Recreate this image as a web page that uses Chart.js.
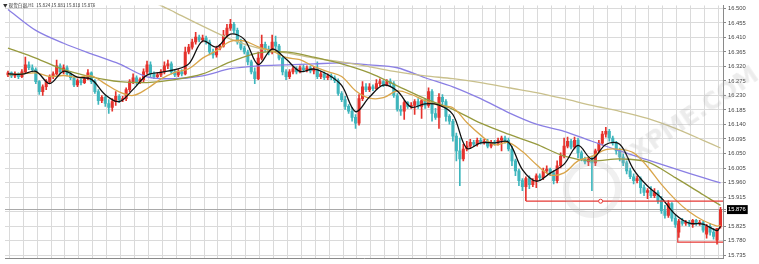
<!DOCTYPE html>
<html><head><meta charset="utf-8">
<script src="https://cdn.jsdelivr.net/npm/chart.js@4.4.0/dist/chart.umd.min.js"></script>
<style>
html,body{margin:0;padding:0;background:#fff;}
#wrap{position:relative;width:759px;height:264px;overflow:hidden;background:#fff;}
canvas{display:block;}
#hdr{position:absolute;left:3px;top:2px;font:4.6px "Noto Sans CJK SC","DejaVu Sans",sans-serif;color:#333;white-space:nowrap;}
#wm{position:absolute;left:612px;top:152px;font:bold 24px "DejaVu Sans",sans-serif;color:rgba(175,175,175,0.24);transform:rotate(-34deg);transform-origin:left top;white-space:nowrap;pointer-events:none;}
#ring{position:absolute;left:563px;top:160px;width:46px;height:46px;border:6px solid rgba(185,185,185,0.22);border-radius:50%;pointer-events:none;}
</style></head><body>
<div id="wrap">
<canvas id="c" width="759" height="264"></canvas>
<div id="hdr">▼ 现货白银,H1&nbsp; 15.824 15.883 15.818 15.876</div>
<div id="ring"></div>
<div id="wm">FXPME.COM</div>
</div>
<script>
const openP=[16.294,16.300,16.291,16.297,16.288,16.303,16.325,16.316,16.310,16.273,
16.242,16.257,16.273,16.288,16.297,16.322,16.303,16.316,16.297,16.285,
16.263,16.276,16.270,16.282,16.300,16.273,16.242,16.214,16.224,16.205,
16.193,16.211,16.227,16.217,16.220,16.248,16.273,16.285,16.273,16.279,
16.303,16.325,16.297,16.288,16.294,16.303,16.322,16.328,16.303,16.294,
16.303,16.297,16.365,16.380,16.396,16.411,16.402,16.408,16.396,16.365,
16.356,16.377,16.383,16.417,16.439,16.451,16.432,16.396,16.377,16.365,
16.334,16.303,16.282,16.346,16.389,16.374,16.365,16.396,16.383,16.346,
16.303,16.288,16.303,16.313,16.303,16.316,16.310,16.316,16.306,16.313,
16.288,16.297,16.285,16.291,16.285,16.276,16.236,16.217,16.196,16.181,
16.162,16.144,16.220,16.257,16.248,16.257,16.251,16.267,16.273,16.263,
16.273,16.267,16.230,16.187,16.181,16.208,16.196,16.199,16.211,16.196,
16.214,16.199,16.242,16.174,16.162,16.224,16.211,16.165,16.150,16.104,
16.058,16.033,16.064,16.073,16.085,16.079,16.091,16.085,16.088,16.073,
16.085,16.082,16.091,16.098,16.091,16.064,16.027,15.996,15.966,15.947,
15.972,15.953,15.966,15.981,15.975,15.996,16.002,15.990,15.966,16.012,
16.042,16.073,16.088,16.070,16.091,16.052,16.033,16.024,16.033,16.021,
16.058,16.082,16.110,16.119,16.098,16.082,16.058,16.039,16.021,15.996,
15.978,15.966,15.972,15.944,15.929,15.935,15.919,15.929,15.904,15.873,
15.858,15.895,15.849,15.806,15.840,15.833,15.836,15.830,15.843,15.833,
15.836,15.800,15.824,15.806,15.781,15.824];
const highP=[16.306,16.303,16.303,16.300,16.310,16.349,16.334,16.325,16.316,16.276,
16.263,16.279,16.294,16.303,16.340,16.328,16.325,16.322,16.303,16.288,
16.282,16.282,16.288,16.310,16.303,16.279,16.248,16.230,16.230,16.217,
16.220,16.242,16.233,16.227,16.254,16.279,16.297,16.291,16.285,16.313,
16.337,16.334,16.303,16.300,16.310,16.334,16.340,16.334,16.310,16.310,
16.310,16.380,16.389,16.405,16.426,16.417,16.417,16.414,16.402,16.374,
16.383,16.389,16.432,16.451,16.466,16.457,16.439,16.405,16.383,16.371,
16.340,16.316,16.365,16.417,16.396,16.383,16.417,16.414,16.389,16.349,
16.310,16.310,16.319,16.319,16.322,16.325,16.322,16.322,16.319,16.334,
16.303,16.303,16.297,16.297,16.291,16.282,16.242,16.227,16.202,16.193,
16.171,16.233,16.273,16.267,16.267,16.263,16.279,16.282,16.276,16.279,
16.282,16.273,16.236,16.199,16.214,16.211,16.208,16.217,16.220,16.217,
16.220,16.254,16.248,16.190,16.236,16.233,16.217,16.171,16.156,16.113,
16.098,16.079,16.088,16.094,16.091,16.098,16.098,16.094,16.094,16.091,
16.091,16.098,16.104,16.104,16.098,16.073,16.033,16.002,15.972,15.978,
15.981,15.972,15.987,15.987,16.005,16.012,16.005,15.996,16.027,16.052,
16.098,16.101,16.094,16.101,16.098,16.058,16.039,16.039,16.042,16.064,
16.091,16.119,16.131,16.125,16.104,16.088,16.067,16.048,16.027,16.005,
15.987,15.981,15.978,15.953,15.941,15.947,15.941,15.935,15.916,15.889,
15.904,15.898,15.858,15.846,15.849,15.843,15.843,15.846,15.846,15.843,
15.840,15.830,15.833,15.818,15.818,15.883];
const lowP=[16.288,16.285,16.285,16.282,16.285,16.300,16.310,16.303,16.267,16.233,
16.230,16.248,16.267,16.282,16.294,16.297,16.297,16.291,16.279,16.257,
16.257,16.263,16.267,16.279,16.267,16.236,16.202,16.208,16.196,16.174,
16.181,16.199,16.208,16.211,16.214,16.242,16.267,16.263,16.267,16.273,
16.297,16.288,16.282,16.282,16.288,16.297,16.313,16.297,16.288,16.288,
16.291,16.294,16.359,16.374,16.389,16.396,16.396,16.389,16.356,16.346,
16.349,16.371,16.380,16.411,16.432,16.423,16.389,16.371,16.359,16.325,
16.297,16.267,16.279,16.340,16.365,16.356,16.359,16.374,16.340,16.294,
16.279,16.282,16.297,16.297,16.300,16.303,16.303,16.300,16.297,16.282,
16.282,16.279,16.279,16.279,16.270,16.230,16.211,16.187,16.174,16.150,
16.128,16.138,16.214,16.242,16.242,16.245,16.248,16.260,16.257,16.260,
16.260,16.224,16.181,16.168,16.156,16.190,16.190,16.171,16.190,16.159,
16.190,16.193,16.150,16.156,16.128,16.199,16.150,16.141,16.088,16.027,
15.950,16.027,16.058,16.067,16.073,16.073,16.079,16.079,16.067,16.067,
16.076,16.076,16.058,16.082,16.058,16.012,15.981,15.950,15.935,15.904,
15.941,15.947,15.944,15.966,15.969,15.990,15.981,15.956,15.959,16.005,
16.036,16.067,16.064,16.064,16.036,16.027,16.018,16.012,15.935,16.012,
16.052,16.076,16.101,16.088,16.076,16.048,16.027,16.012,15.987,15.972,
15.956,15.959,15.926,15.919,15.910,15.913,15.913,15.895,15.864,15.849,
15.852,15.840,15.821,15.790,15.827,15.827,15.824,15.821,15.827,15.827,
15.806,15.787,15.797,15.784,15.769,15.818];
const closeP=[16.300,16.291,16.297,16.288,16.303,16.325,16.316,16.310,16.273,16.242,
16.257,16.273,16.288,16.297,16.322,16.303,16.316,16.297,16.285,16.263,
16.276,16.270,16.282,16.300,16.273,16.242,16.214,16.224,16.205,16.193,
16.211,16.227,16.217,16.220,16.248,16.273,16.285,16.273,16.279,16.303,
16.325,16.297,16.288,16.294,16.303,16.322,16.328,16.303,16.294,16.303,
16.297,16.365,16.380,16.396,16.411,16.402,16.408,16.396,16.365,16.356,
16.377,16.383,16.417,16.439,16.451,16.432,16.396,16.377,16.365,16.334,
16.303,16.282,16.346,16.389,16.374,16.365,16.396,16.383,16.346,16.303,
16.288,16.303,16.313,16.303,16.316,16.310,16.316,16.306,16.313,16.288,
16.297,16.285,16.291,16.285,16.276,16.236,16.217,16.196,16.181,16.162,
16.144,16.220,16.257,16.248,16.257,16.251,16.267,16.273,16.263,16.273,
16.267,16.230,16.187,16.181,16.208,16.196,16.199,16.211,16.196,16.214,
16.199,16.242,16.174,16.162,16.224,16.211,16.165,16.150,16.104,16.058,
16.033,16.064,16.073,16.085,16.079,16.091,16.085,16.088,16.073,16.085,
16.082,16.091,16.098,16.091,16.064,16.027,15.996,15.966,15.947,15.972,
15.953,15.966,15.981,15.975,15.996,16.002,15.990,15.966,16.012,16.042,
16.073,16.088,16.070,16.091,16.052,16.033,16.024,16.033,16.021,16.058,
16.082,16.110,16.119,16.098,16.082,16.058,16.039,16.021,15.996,15.978,
15.966,15.972,15.944,15.929,15.935,15.919,15.929,15.904,15.873,15.858,
15.895,15.849,15.830,15.840,15.833,15.836,15.830,15.843,15.833,15.836,
15.812,15.824,15.806,15.793,15.818,15.876];

const idx4=[0,4,8,12,16,20,24,28,32,36,40,44,48,52,56,60,64,68,72,76,80,84,88,92,96,100,104,108,112,116,120,124,128,132,136,140,144,148,152,156,160,164,168,172,176,180,184,188,192,196,200,204,205];
const maFast=[16.297,16.296,16.305,16.267,16.305,16.287,16.280,16.232,16.211,16.249,
16.293,16.302,16.310,16.328,16.399,16.380,16.420,16.404,16.326,16.374,
16.343,16.305,16.312,16.295,16.261,16.180,16.225,16.262,16.244,16.194,
16.204,16.200,16.171,16.066,16.083,16.083,16.085,16.000,15.964,15.989,
16.017,16.075,16.033,16.078,16.079,16.000,15.949,15.912,15.861,15.834,
15.831,15.811,15.824];
const maMid=[16.294,16.297,16.300,16.289,16.292,16.286,16.291,16.266,16.241,16.230,
16.251,16.281,16.302,16.313,16.346,16.369,16.398,16.399,16.381,16.368,
16.348,16.341,16.320,16.304,16.289,16.245,16.222,16.223,16.244,16.233,
16.214,16.199,16.192,16.146,16.107,16.077,16.084,16.056,16.016,15.984,
15.990,16.027,16.041,16.062,16.063,16.052,16.009,15.954,15.907,15.869,
15.842,15.825,15.827];
const idx8=[0,8,16,24,32,40,48,56,64,72,80,88,96,104,112,120,128,136,144,152,160,168,176,184,192,200,205];
const maOlive=[16.377,16.346,16.310,16.288,16.273,16.270,16.279,16.297,16.334,16.362,16.365,16.349,16.328,16.300,16.260,16.220,16.187,16.144,16.110,16.079,16.042,16.027,16.033,16.024,15.975,15.922,15.889];
const maPurple=[16.497,16.432,16.392,16.359,16.328,16.288,16.282,16.291,16.313,16.322,16.325,16.328,16.331,16.325,16.316,16.285,16.257,16.220,16.177,16.141,16.119,16.088,16.058,16.030,16.002,15.975,15.959];
const idxKhaki=[40,44,48,56,64,72,80,88,96,104,112,120,128,136,144,152,160,168,176,184,192,200,205];
const maKhaki=[16.525,16.509,16.488,16.445,16.405,16.377,16.362,16.346,16.334,16.319,16.303,16.291,16.282,16.270,16.254,16.239,16.220,16.199,16.181,16.159,16.128,16.091,16.067];

const yTicks=[16.500,16.455,16.410,16.365,16.320,16.275,16.230,16.185,16.140,16.095,16.050,16.005,15.960,15.915,15.870,15.825,15.780,15.735];
const xGrid=[0.4,4.4,8.4,12.4,16.4,20.4,24.4,28.4,32.4,36.4,40.4,44.4,48.4,52.4,56.4,60.4,64.4,68.4,72.4,76.4,80.4,84.4,88.4,92.4,96.4,100.4,104.4,108.4,112.4,116.4,120.4,124.4,128.4,132.4,136.4,140.4,144.4,148.4,152.4,156.4,160.4,164.4,168.4,172.4,176.4,180.4,184.4,188.4,192.4,196.4,200.4,204.4];
const LAST=15.876;
const supA_x=[149,205.8], supA_y=[15.902,15.902];
const markA_x=[170.5], markA_y=[15.902];
const supB_x=[192.7,192.7,205.8], supB_y=[15.833,15.775,15.775];

const RED='#e5322c', TEAL='#3fb6bd';
const ids=openP.map((_,i)=>i);
const cols=ids.map(i=>closeP[i]>=openP[i]?RED:TEAL);
const pts=(xs,ys)=>xs.map((x,i)=>({x:x,y:ys[i]}));
const line=(label,data,color,w,order,tension)=>({type:'line',label,data,borderColor:color,borderWidth:w,pointRadius:0,tension:tension,fill:false,order:order});

new Chart(document.getElementById('c'),{
  type:'bar',
  data:{datasets:[
    {type:'bar',label:'wick',data:ids.map(i=>({x:i,y:[lowP[i],highP[i]]})),backgroundColor:cols,barThickness:1,grouped:false,order:5,borderWidth:0},
    {type:'bar',label:'body',data:ids.map(i=>({x:i,y:[openP[i],closeP[i]]})),backgroundColor:cols,barThickness:2.4,grouped:false,minBarLength:1,order:4,borderWidth:0},
    line('khaki',pts(idxKhaki,maKhaki),'#c9c08c',1.3,3,0.3),
    line('purple',pts(idx8,maPurple),'#8a7fe4',1.3,3,0.3),
    line('olive',pts(idx8,maOlive),'#979a3e',1.3,2,0.3),
    line('tan',pts(idx4,maMid),'#d9a54a',1.3,1,0.35),
    line('black',pts(idx4,maFast),'#111111',1.3,0,0.35),
    line('supA',pts(supA_x,supA_y),'#e53935',1.2,-1,0),
    {type:'line',label:'markA',data:pts(markA_x,markA_y),showLine:false,pointRadius:2,pointBorderColor:'#e53935',pointBackgroundColor:'#fff',pointBorderWidth:1,order:-2},
    line('supB',pts(supB_x,supB_y),'#e53935',1.2,-1,0)
  ]},
  options:{
    responsive:false,animation:false,devicePixelRatio:1,
    layout:{padding:{top:3,bottom:6,left:0,right:0}},
    plugins:{legend:{display:false},tooltip:{enabled:false}},
    scales:{
      x:{type:'linear',min:-0.857,max:205.714,offset:false,
        grid:{color:'#dadada',drawTicks:false,offset:false,lineWidth:1},
        border:{display:true,color:'#8a8a8a'},
        ticks:{display:false},
        afterBuildTicks:s=>{s.ticks=xGrid.map(v=>({value:v}));},
        afterFit:s=>{s.height=0;}
      },
      y:{type:'linear',position:'right',min:15.7258,max:16.5092,beginAtZero:false,
        grid:{color:c=>(c.tick&&c.tick.value===LAST)?'#a9a9a9':'#dadada',drawTicks:true,tickLength:3,tickColor:'#888'},
        border:{display:true,color:'#8a8a8a'},
        ticks:{autoSkip:false,padding:2,font:{size:5.8,family:'Arial, "Liberation Sans", sans-serif'},
          color:c=>(c.tick&&c.tick.value===LAST)?'#ffffff':'#444',
          showLabelBackdrop:c=>!!(c.tick&&c.tick.value===LAST),
          backdropColor:c=>(c.tick&&c.tick.value===LAST)?'#000':'rgba(0,0,0,0)',
          backdropPadding:{top:1,bottom:1,left:1,right:2},
          callback:v=>v===15.870?'':Number(v).toFixed(3)},
        afterBuildTicks:s=>{s.ticks=yTicks.concat([LAST]).map(v=>({value:v}));},
        afterFit:s=>{s.width=36;}
      }
    }
  }
});
</script>
</body></html>
